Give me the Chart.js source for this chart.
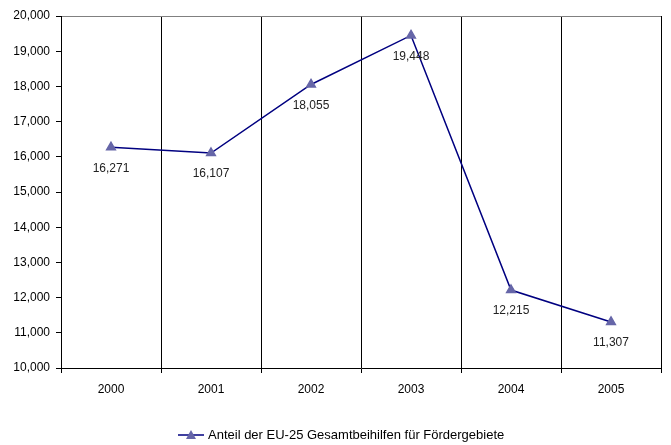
<!DOCTYPE html>
<html>
<head>
<meta charset="utf-8">
<script src="https://cdn.jsdelivr.net/npm/chart.js@4"></script>
<style>
  html, body { margin: 0; padding: 0; background: #fff; }
  #wrap { width: 671px; height: 445px; }
</style>
</head>
<body>
<div id="wrap"><canvas id="chart" width="671" height="445"></canvas></div>
<script>
const years = ['2000', '2001', '2002', '2003', '2004', '2005'];
const values = [16271, 16107, 18055, 19448, 12215, 11307];
const seriesName = 'Anteil der EU-25 Gesamtbeihilfen für Fördergebiete';
const yTicks = [10000, 11000, 12000, 13000, 14000, 15000, 16000, 17000, 18000, 19000, 20000];

const FAMILY = '"Liberation Sans", Arial, sans-serif';
const lineColor = '#000080';
const markerColor = '#6666a8';

// value labels under each point + legend at the bottom
const labelsPlugin = {
    id: 'labelsPlugin',
    afterDatasetsDraw(chart) {
        const ctx = chart.ctx;
        const meta = chart.getDatasetMeta(0);
        ctx.save();
        ctx.font = '12px ' + FAMILY;
        ctx.fillStyle = '#222';
        ctx.textAlign = 'center';
        ctx.textBaseline = 'middle';
        meta.data.forEach((pt, i) => {
            ctx.fillText(values[i].toLocaleString('en-US'), pt.x, pt.y + 21);
        });

        // legend
        ctx.font = '13px ' + FAMILY;
        const textW = ctx.measureText(seriesName).width;
        const total = 26 + 4 + textW;
        const x0 = Math.round(chart.width / 2 + 6 - total / 2);
        const y0 = 435;
        ctx.strokeStyle = lineColor;
        ctx.lineWidth = 1.5;
        ctx.beginPath();
        ctx.moveTo(x0, y0);
        ctx.lineTo(x0 + 26, y0);
        ctx.stroke();
        ctx.fillStyle = markerColor;
        ctx.beginPath();
        ctx.moveTo(x0 + 13, y0 - 5);
        ctx.lineTo(x0 + 18, y0 + 4);
        ctx.lineTo(x0 + 8, y0 + 4);
        ctx.closePath();
        ctx.fill();
        ctx.fillStyle = '#000';
        ctx.textAlign = 'left';
        ctx.fillText(seriesName, x0 + 30, y0);
        ctx.restore();
    }
};

new Chart(document.getElementById('chart'), {
    type: 'line',
    data: {
        labels: years,
        datasets: [{
            label: seriesName,
            data: values,
            borderColor: lineColor,
            borderWidth: 1.5,
            tension: 0,
            pointStyle: 'triangle',
            pointRadius: 5,
            pointBackgroundColor: markerColor,
            pointBorderColor: markerColor,
            fill: false
        }]
    },
    options: {
        responsive: false,
        animation: false,
        layout: { padding: { top: 16, right: 10, left: 0, bottom: 0 } },
        plugins: {
            legend: { display: false },
            tooltip: { enabled: false }
        },
        scales: {
            x: {
                offset: true,
                grid: {
                    offset: true,
                    color: (c) => c.index === years.length ? '#808080' : '#000',
                    tickColor: '#000',
                    tickLength: 5
                },
                border: { color: '#000', width: 1 },
                ticks: { color: '#000', font: { family: FAMILY, size: 12 }, padding: 9 },
                afterFit(scale) { scale.height = 77; }
            },
            y: {
                min: 10000,
                max: 20000,
                afterBuildTicks(scale) { scale.ticks = yTicks.map(v => ({ value: v })); },
                grid: {
                    color: (c) => c.tick && c.tick.value === 20000 ? '#808080' : 'rgba(0,0,0,0)',
                    tickColor: '#000',
                    tickLength: 5
                },
                border: { color: '#000', width: 1 },
                ticks: {
                    color: '#000',
                    font: { family: FAMILY, size: 12 },
                    padding: 6,
                    callback: (v) => v.toLocaleString('en-US')
                },
                afterFit(scale) { scale.width = 61; }
            }
        }
    },
    plugins: [labelsPlugin]
});
</script>
</body>
</html>
